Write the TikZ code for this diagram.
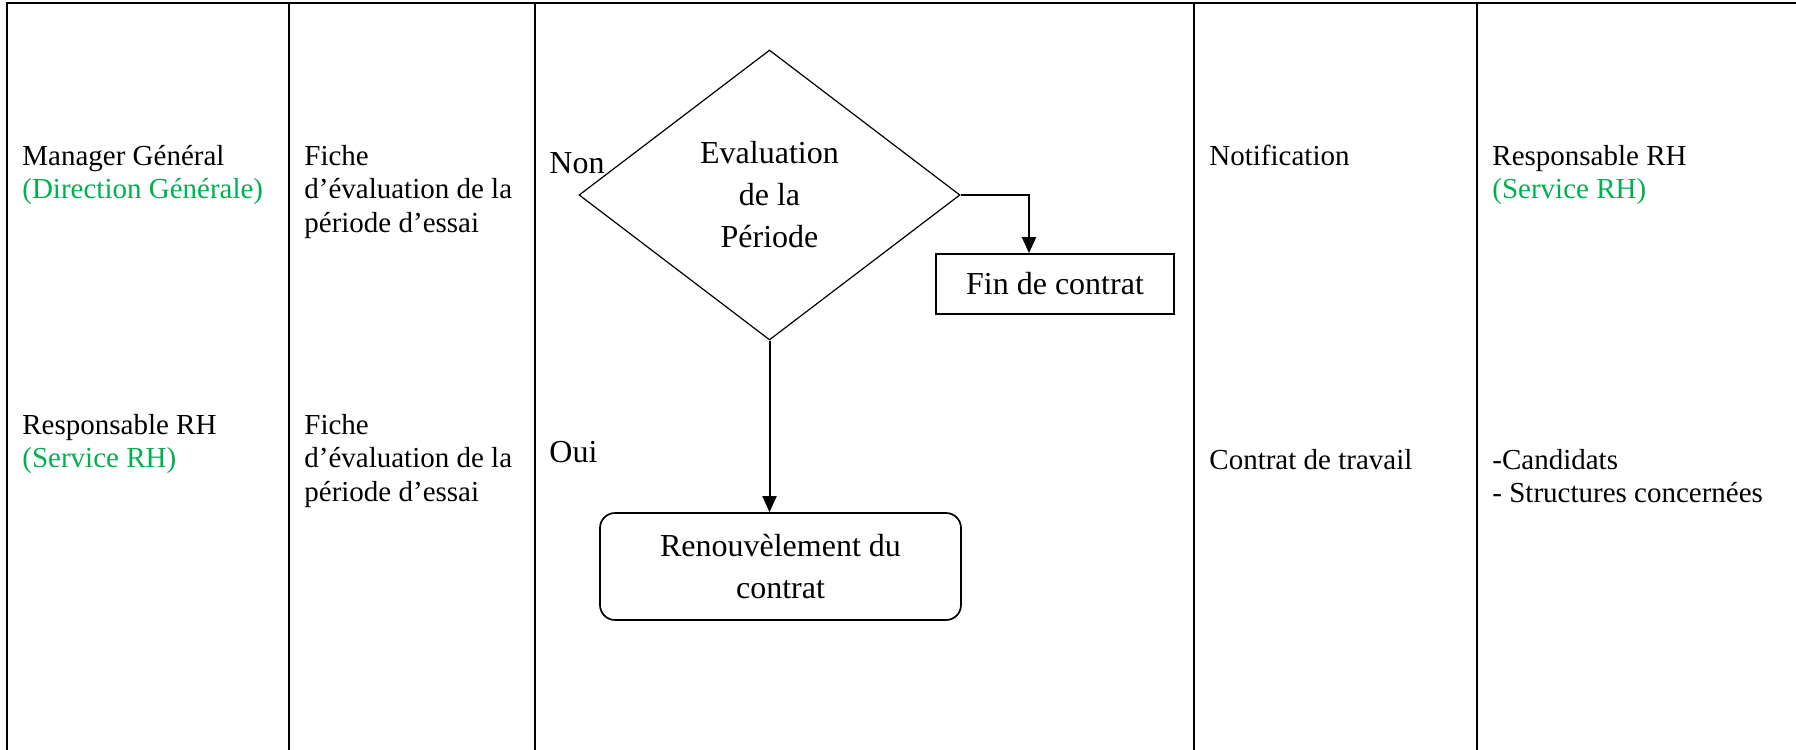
\documentclass[tikz,border=0pt]{standalone}
\usepackage{fontspec}
\setmainfont{Liberation Serif}
\usepackage{tikz}
\usetikzlibrary{arrows.meta,shapes.geometric}
\definecolor{rhgreen}{HTML}{00B050}
\tikzset{arrow/.style={-{Triangle[length=8pt,width=7pt]}, line width=1pt}}
\tikzset{cell/.style={anchor=north west, inner sep=0pt, align=left, font=\fontsize{14.5}{16.75}\selectfont}}
\tikzset{label/.style={anchor=base west, inner sep=0pt, font=\fontsize{16}{21}\selectfont}}
\tikzset{box/.style={draw, line width=0.85pt, inner sep=0pt, align=center, font=\fontsize{16}{21}\selectfont}}
\newcommand{\grn}[1]{\textcolor{rhgreen}{#1}}

\begin{document}
\begin{tikzpicture}[x=0.5pt, y=-0.5pt]
    \useasboundingbox (0,0) rectangle (1796,750);
    \draw[line width=0.85pt] (1796,3) -| (7,750);
    \foreach \x in {289,535,1194,1477}
      \draw[line width=0.85pt] (\x,3) -- (\x,750);

    \node[cell] (who1) at (22,141.5) {\strut Manager Général\\\grn{(Direction Générale)}};
    \node[cell] (who2) at (22,410.5) {\strut Responsable RH\\\grn{(Service RH)}};
    \node[cell] (doc1) at (304,141.5) {\strut Fiche\\d'évaluation de la\\période d'essai};
    \node[cell] (doc2) at (304,410.5) {\strut Fiche\\d'évaluation de la\\période d'essai};
    \node[cell] (out1) at (1209,141.5) {\strut Notification};
    \node[cell] (out2) at (1209,445.5) {\strut Contrat de travail};
    \node[cell] (dst1) at (1492,141.5) {\strut Responsable RH\\\grn{(Service RH)}};
    \node[cell] (dst2) at (1492,445.5) {\strut -Candidats\\- Structures concernées};

    \node[box, diamond, line width=0.6pt, minimum width=190.5pt, minimum height=145pt] (dia) at (769.5,195) {Evaluation\\de la\\Période};
    \node[label] (non) at (549,173) {Non};
    \node[label] (oui) at (549,462) {Oui};
    \node[box, minimum width=119pt, minimum height=30pt] (fin) at (1055,284) {Fin de contrat};
    \node[box, rounded corners=7.5pt, minimum width=180.5pt, minimum height=53.5pt] (ren) at (780.5,566.5) {Renouvèlement du\\contrat};

    \draw[arrow] (dia.east) -| ([xshift=-13pt]fin.north);
    \draw[arrow] (dia.south) -- (dia.south |- ren.north);
\end{tikzpicture}
\end{document}
